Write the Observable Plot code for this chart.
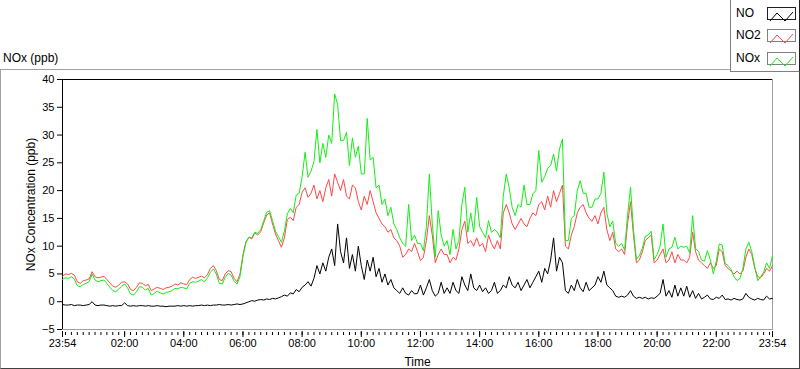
<!DOCTYPE html>
<html>
<head>
<meta charset="utf-8">
<script src="https://cdn.jsdelivr.net/npm/d3@7"></script>
<script src="https://cdn.jsdelivr.net/npm/@observablehq/plot@0.6"></script>
<style>
  html, body { margin: 0; padding: 0; background: #fff; }
  #wrap { position: relative; width: 800px; height: 369px; overflow: hidden; font-family: "Liberation Sans", Arial, sans-serif; }
  #chart { position: absolute; left: 0; top: 0; }
  #panel { position: absolute; left: 0; top: 69px; width: 798px; height: 298px;
           border-top: 1px solid #a0a0a0; border-left: 1px solid #a0a0a0;
           border-right: 1px solid #404040; border-bottom: 1px solid #404040; pointer-events: none; }
  #title { position: absolute; left: 3px; top: 51px; font-size: 12px; color: #000; }
  #legend { position: absolute; left: 730px; top: 0; width: 68px; height: 71px; background: #fff;
            border-left: 1px solid #808080; border-bottom: 1px solid #808080; border-right: 1px solid #202020; }
  .item { position: absolute; left: 5px; font-size: 12px; color: #000; }
  .sw { position: absolute; left: 36px; width: 27px; height: 11px; border: 1px solid #808080; background: #fff; }
</style>
</head>
<body>
<div id="wrap">
  <div id="chart"></div>
  <div id="panel"></div>
  <div id="title">NOx (ppb)</div>
  <div id="legend"></div>
</div>
<script>
// ---- data (6-minute samples starting 23:54) ----
const seriesNames = ["NO", "NO2", "NOx"];
const seriesColors = ["#000000", "#ff4848", "#14ee14"];
const yTicks = [-5, 0, 5, 10, 15, 20, 25, 30, 35, 40];
const xTickLabels = ["23:54","02:00","04:00","06:00","08:00","10:00","12:00","14:00","16:00","18:00","20:00","22:00","23:54"];

const NO = [
 -0.5,-0.6,-0.6,-0.5,-0.7,-0.6,-0.6,-0.7,-0.6,-0.5,
  0.0,-0.6,-0.7,-0.6,-0.6,-0.7,-0.8,-0.7,-0.8,-0.7,
 -0.7,-0.2,-0.7,-0.8,-0.7,-0.8,-0.7,-0.7,-0.8,-0.7,
 -0.8,-0.8,-0.7,-0.8,-0.8,-0.9,-0.8,-0.8,-0.8,-0.7,
 -0.8,-0.7,-0.8,-0.7,-0.8,-0.7,-0.7,-0.6,-0.7,-0.6,
 -0.7,-0.6,-0.6,-0.5,-0.6,-0.6,-0.5,-0.6,-0.5,-0.4,
 -0.5,-0.4,-0.2, 0.0, 0.2, 0.1, 0.3, 0.4, 0.3, 0.5,
  0.4, 0.6, 0.5, 0.7, 0.9, 1.2, 1.0, 1.6, 1.4, 2.2,
  1.8, 2.6, 3.0, 3.6, 2.8, 4.2, 6.5, 5.0, 7.0, 5.5,
  8.0, 9.5, 6.5,14.0, 9.0, 7.0,11.5, 6.0, 8.5, 5.5,
 10.0, 6.5, 4.0, 7.5, 5.5, 8.0, 4.5, 6.0, 3.5, 5.0,
  3.0, 4.0, 2.5, 2.0, 1.5, 2.5, 1.5, 1.2, 2.0, 1.4,
  1.5, 3.0, 1.2, 2.5, 4.0, 2.0, 1.0, 1.5, 3.5, 1.5,
  2.5, 1.5, 3.5, 2.0, 1.5, 4.5, 3.0, 2.0, 5.0, 2.5,
  2.0, 3.0, 1.8, 2.5, 1.5, 2.0, 3.5, 1.5, 2.0, 3.0,
  2.5, 4.5, 3.0, 2.5, 3.5, 2.0, 3.0, 4.0, 2.5, 3.5,
  4.5, 5.5, 3.5, 6.0, 5.0, 7.5,11.5, 5.5, 8.0, 7.0,
  2.0, 1.5, 3.0, 2.0, 4.0, 2.5, 1.8, 3.5, 2.0, 2.5,
  3.0, 4.5, 3.5, 5.5, 3.0, 2.5, 2.0, 1.0, 0.8, 1.0,
  0.8, 1.2, 2.0, 1.0, 0.6, 0.8, 0.6, 0.8, 0.5, 0.7,
  0.6, 1.0, 1.5, 4.0, 1.0, 2.0, 0.8, 3.0, 1.0, 2.5,
  1.0, 2.8, 0.8, 2.0, 0.6, 1.5, 0.5, 0.8, 1.2, 0.5,
  0.4, 0.8, 0.6, 1.2, 0.4, 0.5, 0.3, 0.6, 0.4, 0.3,
  0.5, 1.5, 0.8, 0.5, 0.3, 0.6, 0.4, 0.3, 1.0, 0.5,
  0.6
];

const NO2 = [
  4.6, 5.0, 4.9, 5.1, 4.8, 3.6, 3.3, 3.8, 3.9, 4.1,
  5.4, 4.5, 4.3, 4.4, 4.6, 4.0, 3.4, 2.8, 2.6, 3.0,
  3.5, 3.6, 3.2, 2.2, 2.0, 2.6, 3.4, 3.3, 2.9, 3.1,
  2.0, 2.3, 2.6, 2.4, 2.2, 2.5, 2.6, 2.8, 3.2, 3.0,
  3.4, 3.2, 3.1, 4.0, 4.4, 4.2, 4.4, 4.6, 4.3, 4.9,
  6.0, 6.5, 5.6, 4.0, 3.8, 5.0, 5.6, 5.4, 4.2, 3.6,
  5.0, 8.5,10.8,11.6,11.3,12.4,12.0,12.6,14.2,15.6,
 16.0,14.0,12.2,11.0, 9.8,11.5,14.8,15.2,14.6,17.0,
 17.5,19.7,20.5,18.8,19.5,21.0,18.5,20.0,18.0,20.5,
 22.0,19.0,23.0,21.5,20.0,22.0,19.0,18.5,21.0,20.5,
 18.0,16.5,19.0,17.5,20.0,18.0,16.0,15.0,14.0,13.5,
 12.5,13.0,11.5,11.0,10.0, 8.0, 8.5, 9.5, 9.0,10.5,
  9.0, 7.4, 8.0,11.0,15.5,12.0, 7.0, 8.5, 9.5, 8.5,
  8.5, 7.0, 8.0, 7.5, 9.5,13.0,14.5,10.5,11.0,10.0,
 11.5,10.0,10.5, 9.0,12.0,10.5, 9.5,11.0, 9.5,16.0,
 17.5,16.0,14.0,13.0,14.0,15.0,14.0,13.5,15.0,16.0,
 15.5,17.5,18.0,16.5,19.0,17.0,20.0,18.0,19.5,21.0,
 10.0, 9.5,12.0,13.5,16.0,17.0,17.5,16.0,15.0,14.5,
 15.5,14.0,16.0,17.0,13.0,11.0,12.5, 9.5, 9.0, 9.5,
  8.5,14.0,18.0,12.0, 7.0, 7.5, 9.0,11.0,11.5,12.0,
  7.0, 7.5, 8.5, 9.5, 7.0, 7.5, 9.0, 7.0, 8.5, 7.5,
  7.5, 7.0, 8.0,12.5, 9.0, 7.5, 7.0, 6.5, 6.0, 7.0,
  6.0, 6.5, 9.5, 9.0, 6.5, 6.0, 5.5, 5.0, 5.5, 5.0,
  5.5, 8.0, 9.5, 8.5, 6.0, 4.5, 4.3, 5.0, 6.0, 5.5,
  6.5
];

const NOx = [
  4.0, 4.3, 4.2, 4.5, 4.1, 2.9, 2.7, 3.1, 3.3, 3.6,
  5.0, 3.9, 3.6, 3.8, 3.9, 3.3, 2.6, 2.0, 1.8, 2.3,
  2.8, 3.2, 2.5, 1.4, 1.2, 1.8, 2.7, 2.6, 2.1, 2.4,
  1.2, 1.5, 1.9, 1.6, 1.4, 1.6, 1.8, 2.0, 2.4, 2.3,
  2.6, 2.5, 2.3, 3.3, 3.6, 3.5, 3.7, 4.0, 3.6, 4.3,
  5.3, 5.9, 5.0, 3.3, 3.2, 4.4, 5.1, 4.8, 3.7, 3.2,
  4.5, 8.1,10.6,11.6,11.5,12.5,12.3,13.0,14.5,16.1,
 16.4,14.6,12.7,11.7,10.7,12.7,15.8,16.8,16.0,19.2,
 19.5,22.5,26.9,22.4,23.5,25.2,31.0,25.0,28.5,26.0,
 30.0,28.5,37.4,35.5,29.0,29.0,30.5,24.5,29.5,26.0,
 28.0,23.0,23.0,33.0,25.5,26.0,20.5,21.0,17.5,18.5,
 15.5,17.0,14.0,13.0,11.5,10.5,10.0,17.5,11.0,12.0,
 10.5,10.5, 9.2,13.5,23.0,14.0, 8.0,16.4,12.0,10.0,
 11.0, 8.5,13.0, 9.5,11.0,17.5,20.6,12.5,16.0,12.5,
 18.8,13.5,12.5,11.5,14.6,12.5,13.0,12.5,11.5,19.0,
 23.0,20.5,17.0,15.5,17.5,17.0,21.0,17.5,17.5,19.4,
 20.0,27.2,21.5,22.5,24.0,24.5,26.6,23.5,27.5,29.3,
 11.0,11.0,15.0,15.5,20.0,21.8,19.5,19.5,17.0,17.0,
 18.5,18.5,19.5,23.3,16.0,13.5,14.5,10.5,10.0,10.5,
  9.3,15.5,20.6,13.0, 7.6, 8.3, 9.6,11.8,12.0,12.7,
  7.6, 8.5,10.0,14.0, 8.0, 9.5, 9.8,11.6, 9.5,10.0,
  9.8,10.0, 8.8,15.5, 9.6, 9.0, 7.5, 7.3, 9.2, 7.5,
  5.0, 7.3,10.4,10.2, 6.9, 6.5, 5.8, 4.5, 3.8, 4.2,
  6.0, 9.5,10.7, 9.0, 6.3, 3.8, 4.5, 5.3, 7.0, 6.0,
  8.3
];

// ---- time base ----
const start = new Date(Date.UTC(2020, 0, 1, 23, 54));
const end = new Date(Date.UTC(2020, 0, 2, 23, 54));
const stepMs = 6 * 60 * 1000;
const timeOf = i => new Date(+start + i * stepMs);

const rows = [];
[NO, NO2, NOx].forEach((arr, s) => arr.forEach((v, i) => rows.push({t: timeOf(i), v, s: seriesNames[s]})));

const firstMajor = new Date(Date.UTC(2020, 0, 2, 2, 0));
const majorTicks = [start, ...d3.utcHour.every(2).range(firstMajor, end), end];
const minorTicks = d3.utcMinute.every(12).range(start, end);

const chart = Plot.plot({
  width: 800,
  height: 369,
  marginLeft: 62,
  marginRight: 28,
  marginTop: 79,
  marginBottom: 40,
  style: {fontFamily: "Liberation Sans, Arial, sans-serif", fontSize: "11px", background: "transparent", color: "#000"},
  x: {type: "utc", domain: [start, end]},
  y: {domain: [yTicks[0], yTicks[yTicks.length - 1]]},
  marks: [
    Plot.frame({stroke: "#a0a0a0"}),
    Plot.ruleX([start], {stroke: "#000"}),
    Plot.ruleY([yTicks[yTicks.length - 1]], {stroke: "#000"}),
    Plot.axisY({ticks: yTicks, tickSize: 5, tickPadding: 3, label: null, fontSize: 11}),
    Plot.axisX({ticks: minorTicks, tickSize: 3, tickFormat: () => "", label: null, dy: 3}),
    Plot.axisX({ticks: majorTicks, tickSize: 6, tickPadding: 2, tickFormat: (d, i) => xTickLabels[i], label: null, dy: 2, fontSize: 11}),
    Plot.text(["NOx Concentration (ppb)"], {frameAnchor: "left", dx: -31, rotate: -90, fontSize: 12, textAnchor: "middle", lineAnchor: "middle"}),
    Plot.text(["Time"], {frameAnchor: "bottom", dy: 33, fontSize: 12, textAnchor: "middle", lineAnchor: "middle"}),
    ...seriesNames.map((name, k) =>
      Plot.line(rows.filter(r => r.s === name), {x: "t", y: "v", stroke: seriesColors[k], strokeWidth: 1, curve: "linear"})
    )
  ]
});
document.getElementById("chart").appendChild(chart);

// ---- legend ----
const legend = document.getElementById("legend");
const tops = [6, 28, 51];
seriesNames.forEach((name, k) => {
  const lab = document.createElement("div");
  lab.className = "item";
  lab.style.top = tops[k] + "px";
  lab.textContent = name;
  legend.appendChild(lab);
  const sw = document.createElement("div");
  sw.className = "sw";
  sw.style.top = (tops[k] + 1) + "px";
  if (k === 0) sw.style.borderColor = "#202020";
  sw.innerHTML = `<svg width="27" height="11"><polyline points="2,10 9,2 17,10 25,1" fill="none" stroke="${seriesColors[k]}" stroke-width="1"/></svg>`;
  legend.appendChild(sw);
});
</script>
</body>
</html>
